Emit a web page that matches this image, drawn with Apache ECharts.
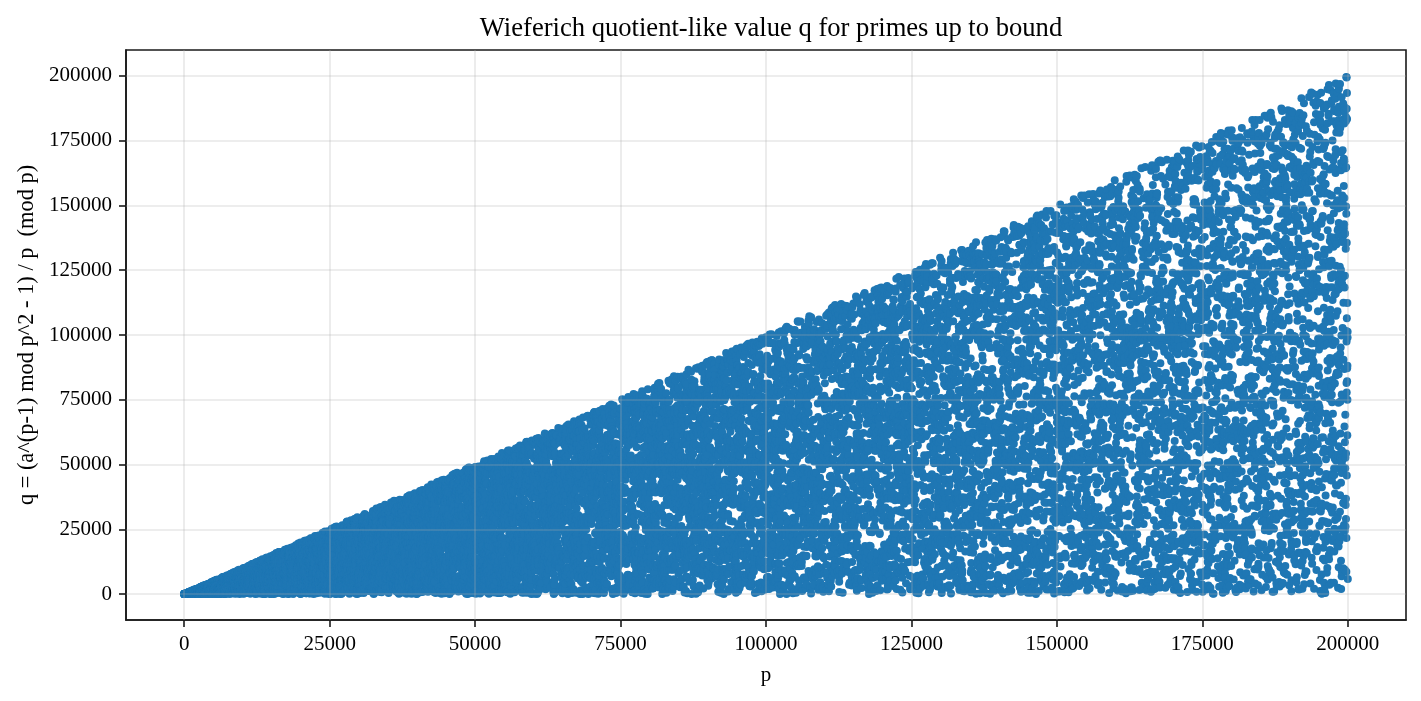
<!DOCTYPE html>
<html>
<head>
<meta charset="utf-8">
<script src="https://cdn.jsdelivr.net/npm/echarts@6/dist/echarts.min.js"></script>
<style>
  html, body { margin: 0; padding: 0; background: #fff; }
  #chart { width: 1421px; height: 701px; }
</style>
</head>
<body>
<div id="chart"></div>
<script>
// tick labels shown on both axes
var xTicks = [0, 25000, 50000, 75000, 100000, 125000, 150000, 175000, 200000];
var yTicks = [0, 25000, 50000, 75000, 100000, 125000, 150000, 175000, 200000];

// the plotted quantity is defined by the axis label:
// q = (a^(p-1) mod p^2 - 1) / p (mod p), base a = 2, all odd primes p < 200000
var bound = 200000;
var base = 2;

var primes = [];
var sieve = new Uint8Array(bound + 1);
for (var i = 2; i <= bound; i++) {
  if (!sieve[i]) {
    primes.push(i);
    for (var j = i * i; j <= bound; j += i) sieve[j] = 1;
  }
}
primes = primes.filter(function(p) { return p > base; });

function modPow(b, e, m) {
  var r = 1n;
  b = b % m;
  while (e > 0n) {
    if (e & 1n) r = (r * b) % m;
    b = (b * b) % m;
    e >>= 1n;
  }
  return r;
}

var qValues = primes.map(function(p) {
  var P = BigInt(p);
  var r = modPow(BigInt(base), P - 1n, P * P);
  return Number(((r - 1n) / P) % P);
});

var points = primes.map(function(p, k) { return [p, qValues[k]]; });

var chart = echarts.init(document.getElementById('chart'), null, { renderer: 'canvas' });
var font = '"Liberation Serif", "DejaVu Serif", serif';
var ink = '#000';
var frame = '#1a1a1a';

function plain(v) { return String(v); }

chart.setOption({
  animation: false,
  textStyle: { fontFamily: font },
  title: {
    text: 'Wieferich quotient-like value q for primes up to bound',
    left: 766, top: 11, textAlign: 'center',
    textStyle: { fontFamily: font, fontSize: 26.6, fontWeight: 'normal', color: ink }
  },
  grid: { left: 126, right: 15, top: 50, bottom: 81, show: true, borderColor: frame, borderWidth: 1.6 },
  xAxis: {
    type: 'value', min: -10000, max: 210000,
    name: 'p', nameLocation: 'middle', nameGap: 45,
    nameTextStyle: { fontFamily: font, fontSize: 21, color: ink },
    axisLine: { show: true, onZero: false, lineStyle: { color: frame, width: 1.6 } },
    axisTick: { show: true, customValues: xTicks, length: 7, lineStyle: { color: frame, width: 1.6 } },
    axisLabel: { customValues: xTicks, formatter: plain, margin: 14, fontFamily: font, fontSize: 21, color: ink },
    splitLine: { show: false }
  },
  yAxis: {
    type: 'value', min: -10000, max: 210000,
    name: 'q = (a^(p-1) mod p^2 - 1) / p  (mod p)', nameLocation: 'middle', nameGap: 84,
    nameTextStyle: { fontFamily: font, fontSize: 22.4, color: ink },
    axisLine: { show: true, onZero: false, lineStyle: { color: frame, width: 1.6 } },
    axisTick: { show: true, customValues: yTicks, length: 7, lineStyle: { color: frame, width: 1.6 } },
    axisLabel: { customValues: yTicks, formatter: plain, margin: 14, fontFamily: font, fontSize: 21, color: ink },
    splitLine: { show: false }
  },
  series: [{
    type: 'scatter',
    data: points,
    symbolSize: 8,
    large: false,
    progressive: 0,
    itemStyle: { color: '#1f77b4', opacity: 1 },
    markLine: {
      silent: true,
      symbol: ['none', 'none'],
      label: { show: false },
      animation: false,
      lineStyle: { color: 'rgba(176,176,176,0.3)', width: 1.6, type: 'solid' },
      data: xTicks.map(function(v) { return { xAxis: v }; })
        .concat(yTicks.map(function(v) { return { yAxis: v }; }))
    }
  }]
});
</script>
</body>
</html>
